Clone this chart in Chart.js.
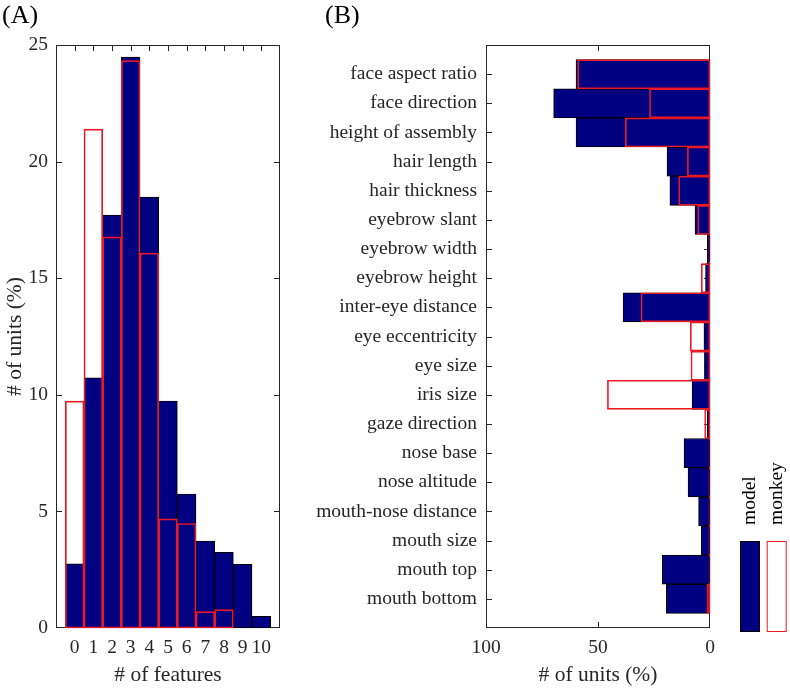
<!DOCTYPE html>
<html>
<head>
<meta charset="utf-8">
<script src="https://cdn.jsdelivr.net/npm/chart.js@4"></script>
<style>
  body { margin: 0; background: #fff; }
  #wrap { position: relative; width: 790px; height: 688px; font-family: "Liberation Serif", serif; }
  .panel { position: absolute; top: 0; height: 688px; }
  #boxA { left: 0; width: 300px; }
  #boxB { left: 300px; width: 490px; }
  .tag { position: absolute; top: 0; font-size: 26px; line-height: 30px; color: #000; }
</style>
</head>
<body>
<div id="wrap">
  <div class="panel" id="boxA"><canvas id="histChart"></canvas></div>
  <div class="panel" id="boxB"><canvas id="featChart"></canvas></div>
  <div class="tag" style="left:2px">(A)</div>
  <div class="tag" style="left:325px">(B)</div>
</div>
<script>
// panel A: histogram of number of features per unit
const featureCounts = [0, 1, 2, 3, 4, 5, 6, 7, 8, 9, 10];
const modelHist  = [2.75, 10.73, 17.71, 24.48, 18.48, 9.73, 5.74, 3.73, 3.25, 2.73, 0.5];
const monkeyHist = [9.73, 21.39, 16.77, 24.33, 16.07, 4.68, 4.48, 0.70, 0.79, 0, 0];

// panel B: % of units tuned to each feature
const features = ['face aspect ratio', 'face direction', 'height of assembly', 'hair length',
  'hair thickness', 'eyebrow slant', 'eyebrow width', 'eyebrow height', 'inter-eye distance',
  'eye eccentricity', 'eye size', 'iris size', 'gaze direction', 'nose base', 'nose altitude',
  'mouth-nose distance', 'mouth size', 'mouth top', 'mouth bottom'];
const modelPct  = [59.8, 69.8, 59.8, 19.2, 17.9, 6.7, 1.2, 2.0, 38.8, 2.7, 2.5, 8.0, 1.3, 11.6, 9.8, 5.1, 3.9, 21.3, 19.5];
const monkeyPct = [59.1, 27.0, 37.8, 10.1, 14.0, 5.5, 0.5, 3.9, 30.8, 8.8, 8.5, 45.8, 2.4, 0.4, 0.5, 0.5, 0.5, 0.4, 1.3];

const navy = '#000080';
const red = 'rgb(235, 25, 35)';
const axisCol = '#262626';
const tickFont = { size: 19.5 };
const titleFont = { size: 21.5 };
const noGrid = { display: false, drawTicks: false };

Chart.defaults.font.family = '"Liberation Serif", serif';
Chart.defaults.color = axisCol;

// matlab style box with inward ticks on all four sides
const boxTicks = {
  id: 'boxTicks',
  beforeDatasetsDraw(chart) {
    const { ctx, chartArea: a, scales } = chart;
    const len = 6;
    ctx.save();
    ctx.strokeStyle = axisCol;
    ctx.lineWidth = 1;
    ctx.beginPath();
    scales.x.ticks.forEach(t => {
      if (t.value <= scales.x.min || t.value >= scales.x.max) return;
      const px = Math.round(scales.x.getPixelForValue(t.value)) + 0.5;
      ctx.moveTo(px, a.bottom); ctx.lineTo(px, a.bottom - len);
      ctx.moveTo(px, a.top); ctx.lineTo(px, a.top + len);
    });
    scales.y.ticks.forEach(t => {
      if (t.value <= scales.y.min || t.value >= scales.y.max) return;
      const py = Math.round(scales.y.getPixelForValue(t.value)) + 0.5;
      ctx.moveTo(a.left, py); ctx.lineTo(a.left + len, py);
      ctx.moveTo(a.right, py); ctx.lineTo(a.right - len, py);
    });
    ctx.stroke();
    ctx.strokeRect(a.left + 0.5, a.top + 0.5, a.right - a.left - 1, a.bottom - a.top - 1);
    ctx.restore();
  }
};

// legend with vertical labels at the right of panel B
const sideLegend = {
  id: 'sideLegend',
  afterDraw(chart) {
    const { ctx, chartArea: a } = chart;
    const items = [chart.data.datasets[1], chart.data.datasets[0]];
    items.forEach((ds, k) => {
      const x0 = a.right + 30 + k * 26.7;
      ctx.save();
      ctx.fillStyle = ds.backgroundColor;
      ctx.fillRect(x0, 541, 20, 91);
      ctx.strokeStyle = ds.borderColor;
      ctx.lineWidth = 1;
      ctx.strokeRect(x0 + 0.5, 541.5, 19, 90);
      ctx.translate(x0 + 10, 525);
      ctx.rotate(-Math.PI / 2);
      ctx.font = '19.5px "Liberation Serif"';
      ctx.textAlign = 'left';
      ctx.textBaseline = 'middle';
      ctx.fillStyle = '#000';
      ctx.fillText(ds.label, 0, 0);
      ctx.restore();
    });
  }
};

const barStyle = { borderWidth: 1, borderSkipped: false, grouped: false,
  categoryPercentage: 1, barPercentage: 1, clip: false };

new Chart(document.getElementById('histChart'), {
  type: 'bar',
  data: {
    datasets: [
      Object.assign({ label: 'monkey', data: featureCounts.map((f, i) => ({ x: f, y: monkeyHist[i] })),
        backgroundColor: 'rgba(255,255,255,0)', borderColor: red }, barStyle),
      Object.assign({ label: 'model', data: featureCounts.map((f, i) => ({ x: f, y: modelHist[i] })),
        backgroundColor: navy, borderColor: '#000' }, barStyle)
    ]
  },
  options: {
    responsive: true,
    maintainAspectRatio: false,
    animation: false,
    layout: { padding: { top: 45, right: 20, left: 0, bottom: 0 } },
    plugins: { legend: { display: false }, tooltip: { enabled: false } },
    scales: {
      x: {
        type: 'linear', min: -1, max: 11, offset: false,
        grid: noGrid, border: { display: false },
        ticks: { stepSize: 1, autoSkip: false, maxRotation: 0, padding: 8, font: tickFont,
          callback: v => (v < 0 || v > 10) ? '' : v },
        title: { display: true, text: '# of features', font: titleFont, padding: { top: 0, bottom: 0 } },
        afterFit: s => { s.height = 60; }
      },
      y: {
        type: 'linear', min: 0, max: 25,
        grid: noGrid, border: { display: false },
        ticks: { stepSize: 5, padding: 8, font: tickFont },
        title: { display: true, text: '# of units (%)', font: titleFont, padding: { top: 2, bottom: 0 } },
        afterFit: s => { s.width = 56; }
      }
    }
  },
  plugins: [boxTicks]
});

new Chart(document.getElementById('featChart'), {
  type: 'bar',
  data: {
    datasets: [
      Object.assign({ label: 'monkey', data: features.map((f, i) => ({ x: monkeyPct[i], y: i + 1 })),
        backgroundColor: 'rgba(255,255,255,0)', borderColor: red }, barStyle),
      Object.assign({ label: 'model', data: features.map((f, i) => ({ x: modelPct[i], y: i + 1 })),
        backgroundColor: navy, borderColor: '#000' }, barStyle)
    ]
  },
  options: {
    indexAxis: 'y',
    responsive: true,
    maintainAspectRatio: false,
    animation: false,
    layout: { padding: { top: 45, right: 80, left: 0, bottom: 0 } },
    plugins: { legend: { display: false }, tooltip: { enabled: false } },
    scales: {
      x: {
        type: 'linear', min: 0, max: 100, reverse: true,
        grid: noGrid, border: { display: false },
        ticks: { stepSize: 50, padding: 8, font: tickFont },
        title: { display: true, text: '# of units (%)', font: titleFont, padding: { top: 0, bottom: 0 } },
        afterFit: s => { s.height = 60; }
      },
      y: {
        type: 'linear', min: 0, max: 20, reverse: true, offset: false,
        grid: noGrid, border: { display: false },
        ticks: { stepSize: 1, autoSkip: false, padding: 9, font: tickFont,
          callback: v => features[v - 1] || '' },
        afterFit: s => { s.width = 186; }
      }
    }
  },
  plugins: [boxTicks, sideLegend]
});
</script>
</body>
</html>
